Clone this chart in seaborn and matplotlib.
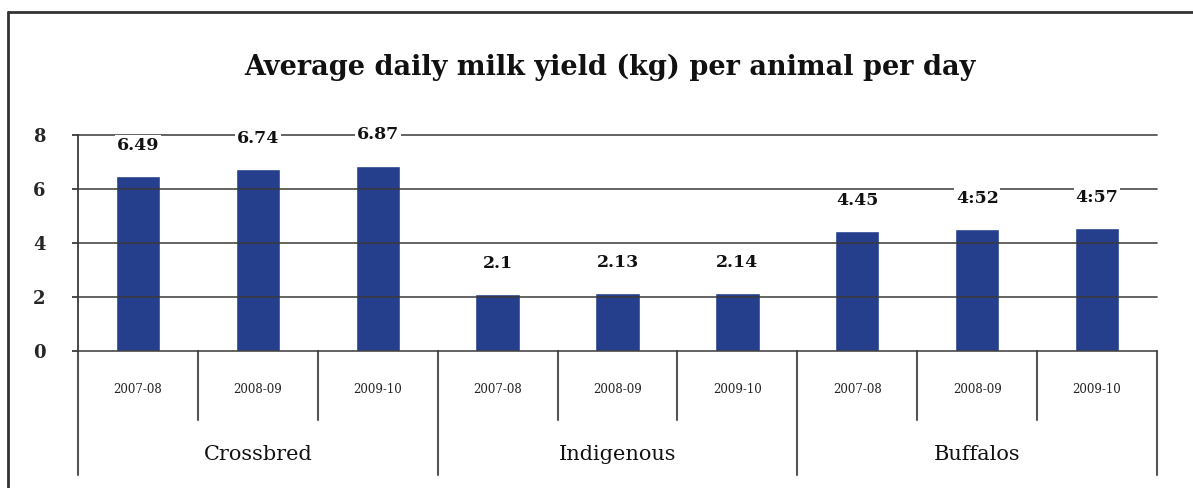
import pandas as pd
import seaborn as sns
import matplotlib.pyplot as plt
from matplotlib.lines import Line2D

# Data
groups = ["Crossbred", "Indigenous", "Buffalos"]
years = ["2007-08", "2008-09", "2009-10"]
crossbred = [6.49, 6.74, 6.87]
indigenous = [2.1, 2.13, 2.14]
buffalos = [4.45, 4.52, 4.57]
value_labels = ["6.49", "6.74", "6.87", "2.1", "2.13", "2.14", "4.45", "4:52", "4:57"]

df = pd.DataFrame({
    "group": [g for g in groups for _ in years],
    "year": years * 3,
    "yield": crossbred + indigenous + buffalos,
})
df["slot"] = [f"{g}|{y}" for g, y in zip(df["group"], df["year"])]

sns.set_theme(style="white")
plt.rcParams["font.family"] = ["DejaVu Serif"]

fig = plt.figure(figsize=(11.93, 4.88), dpi=100)
ax = fig.add_axes([78 / 1193, 1 - 351 / 488, (1157 - 78) / 1193, 216 / 488])

sns.barplot(data=df, x="slot", y="yield", order=list(df["slot"]),
            color="#253f8c", saturation=1, width=0.37, ax=ax, zorder=2)

ax.set_ylim(0, 8)
ax.set_xlim(-0.5, len(df) - 0.5)
ax.set_yticks([0, 2, 4, 6, 8])
ax.set_xticks([])
ax.set_xlabel("")
ax.set_ylabel("")

# gridlines drawn over the bars
for v in [0, 2, 4, 6, 8]:
    ax.axhline(v, color="#3a3a3a", lw=1.3, alpha=0.85, zorder=3, clip_on=False)

for s in ["top", "right", "bottom"]:
    ax.spines[s].set_visible(False)
ax.spines["left"].set_color("#3a3a3a")
ax.spines["left"].set_linewidth(1.3)
ax.tick_params(axis="y", length=4.5, width=1.3, color="#3a3a3a", pad=19,
               labelsize=13, direction="out", left=True)
for t in ax.get_yticklabels():
    t.set_fontweight("bold")

# value labels
for i, (val, txt) in enumerate(zip(df["yield"], value_labels)):
    ax.annotate(txt, (i, val), xytext=(0, 22), textcoords="offset points",
                ha="center", va="center", fontsize=12.5, fontweight="bold",
                color="#111111", zorder=5,
                bbox=dict(boxstyle="square,pad=0.1", fc="white", ec="none"))

# two-level category axis
tr = ax.get_xaxis_transform()
n = len(df)
for k in range(n + 1):
    x = k - 0.5
    bottom = -0.574 if k % 3 == 0 else -0.319
    ax.add_line(Line2D([x, x], [0, bottom], transform=tr, color="#555555",
                       lw=1.5, clip_on=False))
for i, y in enumerate(df["year"]):
    ax.text(i, -0.176, y, transform=tr, ha="center", va="center",
            fontsize=8.5, color="#222222")
for j, g in enumerate(groups):
    ax.text(3 * j + 1, -0.481, g, transform=tr, ha="center", va="center",
            fontsize=15, color="#111111")

fig.text(610 / 1193, 1 - 67 / 488,
         "Average daily milk yield (kg) per animal per day",
         ha="center", va="center", fontsize=19.5, fontweight="bold", color="#111111")

# outer frame (top and left edges)
fig.add_artist(Line2D([8 / 1193, 1], [1 - 12 / 488, 1 - 12 / 488],
                      transform=fig.transFigure, color="#333333", lw=2))
fig.add_artist(Line2D([8 / 1193, 8 / 1193], [0, 1 - 12 / 488],
                      transform=fig.transFigure, color="#333333", lw=2))

fig.savefig("out.png", dpi=100)
